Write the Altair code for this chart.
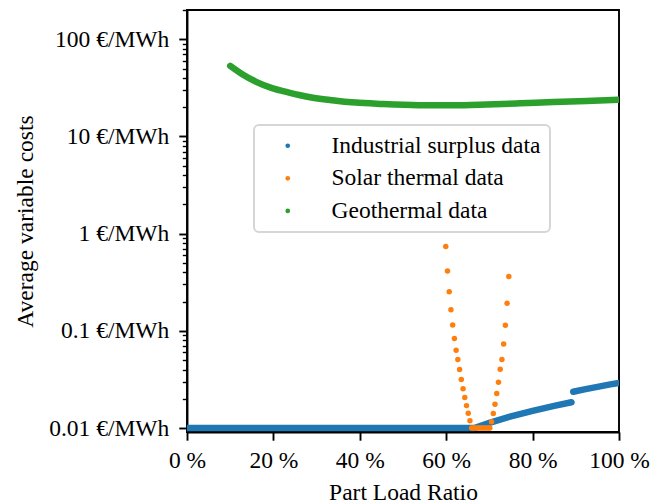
import altair as alt
import pandas as pd

# ---------------- data ----------------
series_names = ["Industrial surplus data", "Solar thermal data", "Geothermal data"]
series_colors = ["#1f77b4", "#ff7f0e", "#2ca02c"]

# Industrial surplus (two segments, jump near 89 %)
blue_x1 = [0, 10, 20, 30, 40, 50, 60, 66.5, 70, 75, 80, 85, 89.0]
blue_y1 = [0.01, 0.01, 0.01, 0.01, 0.01, 0.01, 0.01, 0.01, 0.0113, 0.0132, 0.0150, 0.0169, 0.0184]
blue_x2 = [89.4, 92, 95, 98, 100]
blue_y2 = [0.0236, 0.0250, 0.0265, 0.0281, 0.0291]

# Solar thermal (discrete dots)
orange_x = [59.9, 60.3, 60.7, 61.1, 61.5, 61.9, 62.3, 62.7, 63.1, 63.5, 63.9, 64.3, 64.7, 65.1, 65.5,
            65.9, 66.3, 66.7, 67.1, 67.5, 67.9, 68.3, 68.7, 69.1, 69.5, 69.9, 70.1,
            70.5, 70.9, 71.3, 71.7, 72.1, 72.5, 72.9, 73.3, 73.7, 74.1, 74.5]
orange_y = [0.738, 0.413, 0.253, 0.165, 0.115, 0.0832, 0.0631, 0.0507, 0.0399, 0.0315, 0.0253, 0.0206, 0.0170, 0.0142, 0.0119,
            0.01, 0.01, 0.01, 0.01, 0.01, 0.01, 0.01, 0.01, 0.01, 0.01, 0.01, 0.01,
            0.0116, 0.0141, 0.0176, 0.0226, 0.0296, 0.0402, 0.0506, 0.0733, 0.114, 0.192, 0.363]

# Geothermal
green_x = [10, 12.8, 15.9, 19.7, 23.6, 28.2, 33.6, 39, 45.2, 53.6, 61.6, 69.4, 77.1, 84.8, 92.5, 100]
green_y = [53.2, 43.7, 36.7, 31.4, 28.3, 25.5, 23.6, 22.3, 21.6, 21.0, 20.9, 21.3, 21.9, 22.6, 23.2, 23.9]

x_ticks = [0, 20, 40, 60, 80, 100]
y_major = [0.01, 0.1, 1, 10, 100]
y_minor_mult = [2, 3, 4, 5, 6, 7, 8, 9]
y_ticks = sorted(set(y_major + [round(m * d, 6) for d in y_major for m in y_minor_mult if m * d <= 200]))

# ---------------- tables ----------------
df_blue = pd.DataFrame({
    "load": blue_x1 + blue_x2,
    "cost": blue_y1 + blue_y2,
    "segment": ["a"] * len(blue_x1) + ["b"] * len(blue_x2),
})
df_green = pd.DataFrame({"load": green_x, "cost": green_y})
df_orange = pd.DataFrame({"load": orange_x, "cost": orange_y, "series": series_names[1]})

FONT = "Liberation Serif"
FS = 23.5

is_major = "abs(log(datum.value)/LN10 - round(log(datum.value)/LN10)) < 1e-6"

x_enc = alt.X(
    "load:Q",
    scale=alt.Scale(domain=[0, 100], nice=False),
    axis=alt.Axis(
        values=x_ticks,
        labelExpr="datum.value + ' %'",
        title="Part Load Ratio",
        tickSize=8.2,
        tickWidth=1.9,
        labelPadding=8,
        labelFlush=False,
        labelOverlap=False,
        titleX=216,
        titleY=67,
        titleAlign="center",
        titleBaseline="alphabetic",
    ),
)
y_enc = alt.Y(
    "cost:Q",
    scale=alt.Scale(type="log", domain=[0.0091, 200], nice=False),
    axis=alt.Axis(
        values=y_ticks,
        labelExpr=f"({is_major}) ? format(datum.value, '~g') + ' €/MWh' : ''",
        title="Average variable costs",
        tickSize={"condition": {"test": is_major, "value": 8.2}, "value": 4.7},
        tickWidth={"condition": {"test": is_major, "value": 1.9}, "value": 1.4},
        labelPadding=10,
        labelOverlap=False,
        labelBound=False,
        titleX=-155,
        titleY=211,
        titleAngle=-90,
        titleAlign="center",
        titleBaseline="alphabetic",
    ),
)

blue_line = alt.Chart(df_blue).mark_line(
    strokeWidth=6.5, strokeCap="round", clip=True
).encode(x=x_enc, y=y_enc, detail="segment:N", color=alt.value(series_colors[0]))

green_line = alt.Chart(df_green).mark_line(
    strokeWidth=6.5, strokeCap="round", clip=True, interpolate="monotone"
).encode(x=x_enc, y=y_enc, color=alt.value(series_colors[2]))

orange_pts = alt.Chart(df_orange).mark_circle(size=30, opacity=1, clip=True).encode(
    x=x_enc,
    y=y_enc,
    color=alt.Color(
        "series:N",
        scale=alt.Scale(domain=series_names, range=series_colors),
        legend=alt.Legend(
            title=None,
            orient="none",
            legendX=67,
            legendY=115,
            symbolType="circle",
            symbolSize=22,
            symbolStrokeWidth=0,
            symbolOpacity=1,
            symbolOffset=13,
            labelOffset=32,
            labelFont=FONT,
            labelFontSize=FS,
            labelColor="black",
            labelLimit=400,
            rowPadding=7.6,
            padding=9,
            fillColor="white",
            strokeColor="#d6d6d6",
            cornerRadius=5,
        ),
    ),
)

chart = alt.layer(blue_line, green_line, orange_pts).properties(
    width=432,
    height=422,
    background="white",
    autosize=alt.AutoSizeParams(type="none"),
    padding={"left": 187, "top": 10, "right": 42, "bottom": 71},
).configure_view(
    stroke="black", strokeWidth=1.9
).configure_axis(
    grid=False,
    labelFont=FONT,
    titleFont=FONT,
    labelFontSize=FS,
    titleFontSize=FS,
    titleFontWeight="normal",
    labelColor="black",
    titleColor="black",
    domainColor="black",
    domainWidth=1.9,
    tickColor="black",
).configure_legend(
    strokeWidth=2,
)

chart.save("out.html", embed_options={"renderer": "svg", "actions": False})
